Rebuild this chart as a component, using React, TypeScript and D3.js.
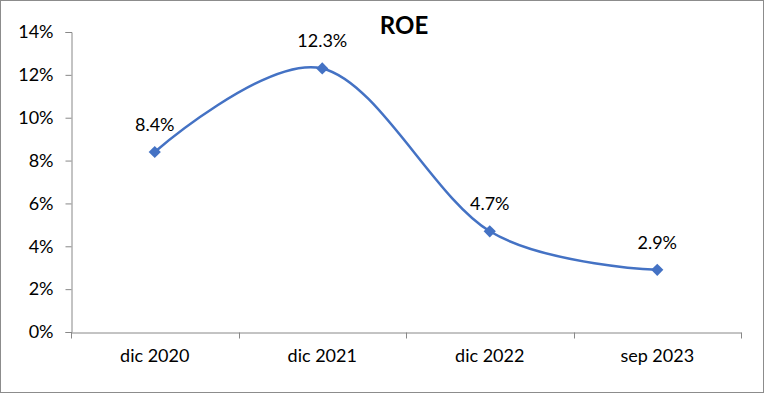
import React, { useRef, useEffect } from "react";
import * as d3 from "d3";

const categories = ["dic 2020", "dic 2021", "dic 2022", "sep 2023"];
const roeValues = [8.4, 12.3, 4.7, 2.9];
const yTicks = [0, 2, 4, 6, 8, 10, 12, 14];

const width = 766;
const height = 394;
const margin = { top: 32, right: 25, bottom: 62, left: 71 };
const font = "Lato, 'Open Sans', sans-serif";
const lineColor = "#4472C4";

const App: React.FC = () => {
  const svgRef = useRef<SVGSVGElement | null>(null);

  useEffect(() => {
    if (!svgRef.current) return;
    const svg = d3.select(svgRef.current);
    svg.selectAll("*").remove();

    svg
      .append("rect")
      .attr("x", 0.5)
      .attr("y", 0.5)
      .attr("width", width - 3)
      .attr("height", height - 2)
      .attr("fill", "#fff")
      .attr("stroke", "#8c8c8c")
      .attr("stroke-width", 1);

    const x = d3
      .scaleBand()
      .domain(categories)
      .range([margin.left, width - margin.right]);

    const y = d3
      .scaleLinear()
      .domain([0, 14])
      .range([height - margin.bottom, margin.top]);

    // y axis
    const yAxis = svg
      .append("g")
      .attr("transform", `translate(${margin.left + 0.5},0)`)
      .call(
        d3
          .axisLeft(y)
          .tickValues(yTicks)
          .tickSize(6)
          .tickPadding(12)
          .tickFormat((d) => `${d}%`)
      );
    yAxis.select(".domain").attr("stroke", "#888");
    yAxis.selectAll(".tick line").attr("stroke", "#888");
    yAxis
      .selectAll("text")
      .attr("font-family", font)
      .attr("font-size", 18)
      .attr("fill", "#000");

    // x axis
    const xAxis = svg
      .append("g")
      .attr("transform", `translate(0,${height - margin.bottom + 0.5})`)
      .call(d3.axisBottom(x).tickSize(0).tickPadding(17));
    xAxis.select(".domain").attr("stroke", "#888");
    xAxis.selectAll("text")
      .attr("font-family", font)
      .attr("font-size", 18)
      .attr("fill", "#000");
    const edges = categories.map((c) => x(c) as number).concat([width - margin.right]);
    xAxis
      .selectAll(".edge")
      .data(edges)
      .enter()
      .append("line")
      .attr("x1", (d) => Math.round(d) + 0.5)
      .attr("x2", (d) => Math.round(d) + 0.5)
      .attr("y1", 0)
      .attr("y2", 6)
      .attr("stroke", "#888");

    const pts: [number, number][] = roeValues.map((v, i) => [
      (x(categories[i]) as number) + x.bandwidth() / 2,
      y(v),
    ]);

    const line = d3
      .line<[number, number]>()
      .x((d) => d[0])
      .y((d) => d[1])
      .curve(d3.curveCatmullRom.alpha(0));

    svg
      .append("path")
      .datum(pts)
      .attr("fill", "none")
      .attr("stroke", lineColor)
      .attr("stroke-width", 2.5)
      .attr("d", line);

    svg
      .selectAll(".marker")
      .data(pts)
      .enter()
      .append("path")
      .attr("d", d3.symbol().type(d3.symbolDiamond2).size(95)())
      .attr("transform", (d) => `translate(${d[0]},${d[1]})`)
      .attr("fill", lineColor);

    svg
      .selectAll(".label")
      .data(roeValues)
      .enter()
      .append("text")
      .attr("x", (_, i) => pts[i][0])
      .attr("y", (_, i) => pts[i][1] - 21)
      .attr("text-anchor", "middle")
      .attr("font-family", font)
      .attr("font-size", 18)
      .attr("fill", "#000")
      .text((d) => `${d.toFixed(1)}%`);

    svg
      .append("text")
      .attr("x", 404)
      .attr("y", 34)
      .attr("text-anchor", "middle")
      .attr("font-family", font)
      .attr("font-size", 24)
      .attr("font-weight", "bold")
      .text("ROE");
  }, []);

  return (
    <svg
      ref={svgRef}
      width={width}
      height={height}
      style={{ position: "absolute", left: 0, top: 0, display: "block" }}
    />
  );
};

export default App;
